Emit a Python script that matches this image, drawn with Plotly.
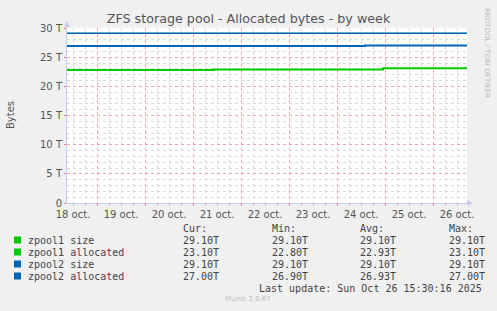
import plotly.graph_objects as go

# ---- data ----
title = "ZFS storage pool - Allocated bytes - by week"
t_start = "2025-10-18 09:00"
t_end = "2025-10-26 17:00"

zpool1_size_t = [t_start, t_end]
zpool1_size_v = [29.1, 29.1]
zpool1_alloc_t = [t_start, "2025-10-21 10:30", "2025-10-24 23:00", t_end]
zpool1_alloc_v = [22.8, 22.9, 23.1, 23.1]
zpool2_size_t = [t_start, t_end]
zpool2_size_v = [29.1, 29.1]
zpool2_alloc_t = [t_start, "2025-10-24 14:00", t_end]
zpool2_alloc_v = [26.9, 27.0, 27.0]

y_tickvals = [0, 5, 10, 15, 20, 25, 30]
y_ticktext = ["0", "5 T", "10 T", "15 T", "20 T", "25 T", "30 T"]

legend_names = ["zpool1 size", "zpool1 allocated", "zpool2 size", "zpool2 allocated"]
legend_colors = ["#00CC00", "#00CC00", "#0066B3", "#0066B3"]
cur_vals = ["29.10T", "23.10T", "29.10T", "27.00T"]
min_vals = ["29.10T", "22.80T", "29.10T", "26.90T"]
avg_vals = ["29.10T", "22.93T", "29.10T", "26.93T"]
max_vals = ["29.10T", "23.10T", "29.10T", "27.00T"]
last_update = "Last update: Sun Oct 26 15:30:16 2025"
version = "Munin 2.0.67"

# ---- layout geometry (pixels) ----
W, H = 497, 311
L, R, T, B = 67, 30, 28, 108
PW, PH = W - L - R, H - T - B


def px(x):
    return (x - L) / PW


def py(y):
    return (H - B - y) / PH


fig = go.Figure()
series = [
    (zpool1_size_t, zpool1_size_v, legend_colors[0], 0.6),
    (zpool1_alloc_t, zpool1_alloc_v, legend_colors[1], 2),
    (zpool2_size_t, zpool2_size_v, legend_colors[2], 1.4),
    (zpool2_alloc_t, zpool2_alloc_v, legend_colors[3], 2),
]
for (t, v, c, w), name in zip(series, legend_names):
    fig.add_trace(go.Scatter(x=t, y=v, mode="lines", name=name,
                             line=dict(color=c, width=w, shape="hv"),
                             showlegend=False, hoverinfo="skip"))

fig.update_layout(
    width=W, height=H,
    margin=dict(l=L, r=R, t=T, b=B),
    paper_bgcolor="#F0F0F0",
    plot_bgcolor="#FFFFFF",
    font=dict(family="DejaVu Sans", size=9, color="#555555"),
    title=dict(text=title, x=0.5, xref="paper", xanchor="center", y=1 - 19 / H, yanchor="middle",
               font=dict(family="DejaVu Sans", size=12.7, color="#555555")),
)
fig.update_layout(title_xref="container")
fig.update_xaxes(
    type="date", range=[t_start, t_end],
    tick0="2025-10-18 00:00", dtick=86400000, ticklabelmode="period",
    tickformat="%d oct.", showgrid=True, gridcolor="#E8A8A8", griddash="dot", gridwidth=1,
    ticks="outside", ticklen=2, tickcolor="#E08080",
    minor=dict(dtick=21600000, showgrid=True, gridcolor="#DADADA", griddash="dot",
               ticks="outside", ticklen=2, tickcolor="#C0C0C0"),
    showline=True, linecolor="#C8C8F0", linewidth=1, zeroline=False,
    tickfont=dict(size=10, color="#555555"),
)
fig.update_yaxes(
    range=[0, 30], tickvals=y_tickvals, ticktext=y_ticktext,
    showgrid=True, gridcolor="#E8A8A8", griddash="dot", gridwidth=1,
    ticks="outside", ticklen=2, tickcolor="#E08080",
    minor=dict(dtick=1, showgrid=True, gridcolor="#DADADA", griddash="dot"),
    showline=True, linecolor="#C8C8F0", linewidth=1, zeroline=False,
    tickfont=dict(size=10, color="#555555"),
)

ann = []
mono = dict(family="DejaVu Sans Mono", size=10, color="#444444")
# axis title
ann.append(dict(text="Bytes", x=px(10), y=py(115), xref="paper", yref="paper",
                textangle=-90, showarrow=False, xanchor="center", yanchor="middle",
                font=dict(family="DejaVu Sans", size=10, color="#555555")))
# rrdtool watermark
ann.append(dict(text="RRDTOOL / TOBI OETIKER", x=px(487), y=py(53), xref="paper", yref="paper",
                textangle=90, showarrow=False, xanchor="center", yanchor="middle",
                font=dict(family="DejaVu Sans", size=7, color="#BBBBBB")))
# legend headers
col_x = [181, 270, 358, 447]
headers = ["Cur:", "Min:", "Avg:", "Max:"]
for cx, h in zip(col_x, headers):
    ann.append(dict(text=h, x=px(cx), y=py(228), xref="paper", yref="paper",
                    showarrow=False, xanchor="left", yanchor="middle", font=mono))
row_y = [240, 252, 264, 276]
shapes = []
for i, name in enumerate(legend_names):
    yy = row_y[i]
    shapes.append(dict(type="rect", xref="paper", yref="paper",
                       x0=px(14), x1=px(21), y0=py(yy + 3.5), y1=py(yy - 3.5),
                       fillcolor=legend_colors[i], line=dict(width=0)))
    ann.append(dict(text=name, x=px(26), y=py(yy), xref="paper", yref="paper",
                    showarrow=False, xanchor="left", yanchor="middle", font=mono))
    for cx, vals in zip(col_x, [cur_vals, min_vals, avg_vals, max_vals]):
        ann.append(dict(text=vals[i], x=px(cx), y=py(yy), xref="paper", yref="paper",
                        showarrow=False, xanchor="left", yanchor="middle", font=mono))
ann.append(dict(text=last_update, x=px(484), y=py(288), xref="paper", yref="paper",
                showarrow=False, xanchor="right", yanchor="middle", font=mono))
ann.append(dict(text=version, x=px(248), y=py(299), xref="paper", yref="paper",
                showarrow=False, xanchor="center", yanchor="middle",
                font=dict(family="DejaVu Sans", size=7, color="#BBBBBB")))

# axis arrows
shapes.append(dict(type="path", xref="paper", yref="paper",
                   path=f"M {px(64)} {py(27)} L {px(70)} {py(27)} L {px(67)} {py(21)} Z",
                   fillcolor="#C8C8F0", line=dict(width=0)))
shapes.append(dict(type="path", xref="paper", yref="paper",
                   path=f"M {px(467)} {py(200)} L {px(467)} {py(206)} L {px(473)} {py(203)} Z",
                   fillcolor="#C8C8F0", line=dict(width=0)))

fig.update_layout(annotations=ann, shapes=shapes)
fig.write_html("out.html")
